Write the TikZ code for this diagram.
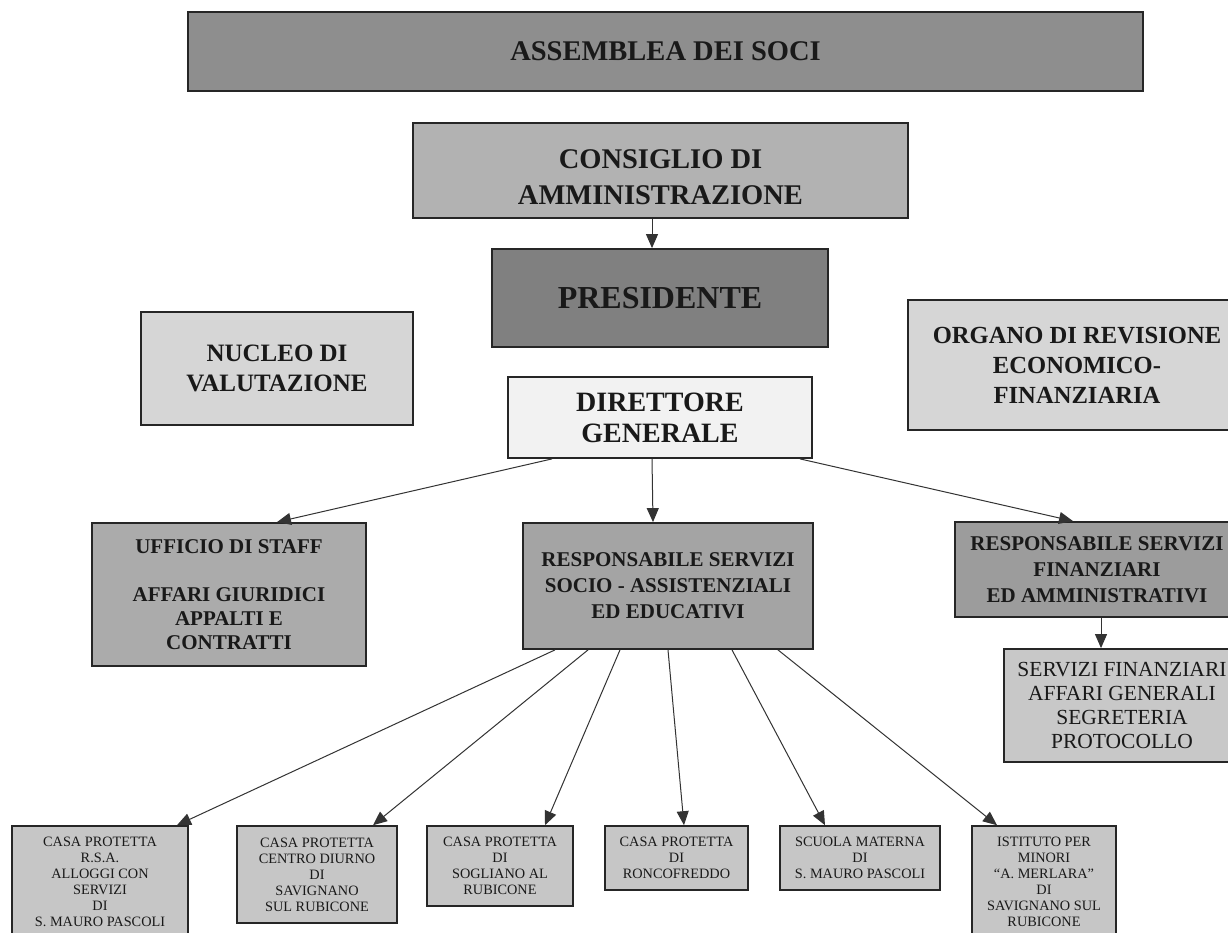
\documentclass[tikz,border=0pt]{standalone}
\usepackage{fontspec}
\setmainfont{Liberation Serif}
\usetikzlibrary{arrows.meta}
\definecolor{cAssem}{HTML}{8E8E8E}
\definecolor{cConsig}{HTML}{B2B2B2}
\definecolor{cPres}{HTML}{808080}
\definecolor{cLight}{HTML}{D6D6D6}
\definecolor{cDir}{HTML}{F2F2F2}
\definecolor{cUff}{HTML}{ABABAB}
\definecolor{cResp}{HTML}{A4A4A4}
\definecolor{cSfin}{HTML}{C8C8C8}
\definecolor{cBot}{HTML}{C6C6C6}
\newcommand{\fsz}[2]{\fontsize{#1}{#2}\selectfont}
\begin{document}
\begin{tikzpicture}[x=1pt,y=-1pt,
  box/.style={draw=black!85,line width=1.8pt,inner sep=0pt,align=center,text=black!90},
  botbox/.style={box,fill=cBot,line width=1.6pt,font=\fsz{14.3}{16}},
  conn/.style={draw=black!80,line width=1pt,-{Triangle[length=14pt,width=12pt]}}]
\useasboundingbox (0,0) rectangle (1228,933);
\fill[white] (0,0) rectangle (1228,933);
\clip (0,0) rectangle (1228,933);

\node[box,fill=cAssem,minimum width=955,minimum height=79,font=\fsz{28.5}{32}\bfseries] (assem) at (665.5,51.5) {ASSEMBLEA DEI SOCI};
\node[box,fill=cConsig,minimum width=495,minimum height=95] (consig) at (660.5,170.5) {};
\node[align=center,inner sep=0pt,text=black!90,font=\fsz{28.5}{36}\bfseries] (consigtext) at (660.5,177) {CONSIGLIO DI\\AMMINISTRAZIONE};
\node[box,fill=cPres,minimum width=336,minimum height=98,font=\fsz{32}{36}\bfseries] (pres) at (660,298) {PRESIDENTE};
\node[box,fill=cLight,minimum width=272,minimum height=113,font=\fsz{25}{30}\bfseries] (nucleo) at (277,368.5) {NUCLEO DI\\VALUTAZIONE};
\node[box,fill=cLight,minimum width=338,minimum height=130,font=\fsz{24.6}{30}\bfseries] (organo) at (1077,365) {ORGANO DI REVISIONE\\ECONOMICO-\\FINANZIARIA};
\node[box,fill=cDir,minimum width=304,minimum height=81,font=\fsz{28}{31}\bfseries] (dir) at (660,417.5) {DIRETTORE\\GENERALE};
\node[box,fill=cUff,minimum width=274,minimum height=143,font=\fsz{21}{24}\bfseries] (uff) at (229,594.5) {UFFICIO DI STAFF\\[24pt]AFFARI GIURIDICI\\APPALTI E\\CONTRATTI};
\node[box,fill=cResp,minimum width=290,minimum height=126,font=\fsz{21}{26}\bfseries] (rsoc) at (668,586) {RESPONSABILE SERVIZI\\SOCIO - ASSISTENZIALI\\ED EDUCATIVI};
\node[box,fill=cResp!95!black,minimum width=284,minimum height=95,font=\fsz{21}{26}\bfseries] (rfin) at (1097,569.5) {RESPONSABILE SERVIZI\\FINANZIARI\\ED AMMINISTRATIVI};
\node[box,fill=cSfin,minimum width=236,minimum height=113,font=\fsz{21.5}{24}] (sfin) at (1122,705.5) {SERVIZI FINANZIARI\\AFFARI GENERALI\\SEGRETERIA\\PROTOCOLLO};

\node[botbox,minimum width=176,minimum height=112] (b1) at (100,882) {CASA PROTETTA\\R.S.A.\\ALLOGGI CON\\SERVIZI\\DI\\S. MAURO PASCOLI};
\node[botbox,minimum width=160,minimum height=97] (b2) at (317,874.5) {CASA PROTETTA\\CENTRO DIURNO\\DI\\SAVIGNANO\\SUL RUBICONE};
\node[botbox,minimum width=146,minimum height=80] (b3) at (500,866) {CASA PROTETTA\\DI\\SOGLIANO AL\\RUBICONE};
\node[botbox,minimum width=143,minimum height=64] (b4) at (676.5,858) {CASA PROTETTA\\DI\\RONCOFREDDO};
\node[botbox,minimum width=160,minimum height=64] (b5) at (860,858) {SCUOLA MATERNA\\DI\\S. MAURO PASCOLI};
\node[botbox,minimum width=144,minimum height=112] (b6) at (1044,882) {ISTITUTO PER\\MINORI\\“A. MERLARA”\\DI\\SAVIGNANO SUL\\RUBICONE};

\draw[conn] ([xshift=-8.5pt]consig.south) -- ([xshift=-8pt]pres.north);
\draw[conn] ([xshift=-8pt]dir.south) -- ([xshift=-15pt]rsoc.north);
\draw[conn] ([xshift=-108pt]dir.south) -- ([xshift=48pt]uff.north);
\draw[conn] ([xshift=140pt]dir.south) -- ([xshift=-24pt]rfin.north);
\draw[conn] ([xshift=4pt]rfin.south) -- ([xshift=-21pt]sfin.north);

\draw[conn] ([xshift=-113pt]rsoc.south) -- ([xshift=77pt]b1.north);
\draw[conn] ([xshift=-80pt]rsoc.south) -- ([xshift=56pt]b2.north);
\draw[conn] ([xshift=-48pt]rsoc.south) -- ([xshift=45pt]b3.north);
\draw[conn] (rsoc.south) -- ([xshift=7.5pt]b4.north);
\draw[conn] ([xshift=64pt]rsoc.south) -- ([xshift=-35pt]b5.north);
\draw[conn] ([xshift=110pt]rsoc.south) -- ([xshift=-47pt]b6.north);
\end{tikzpicture}
\end{document}
